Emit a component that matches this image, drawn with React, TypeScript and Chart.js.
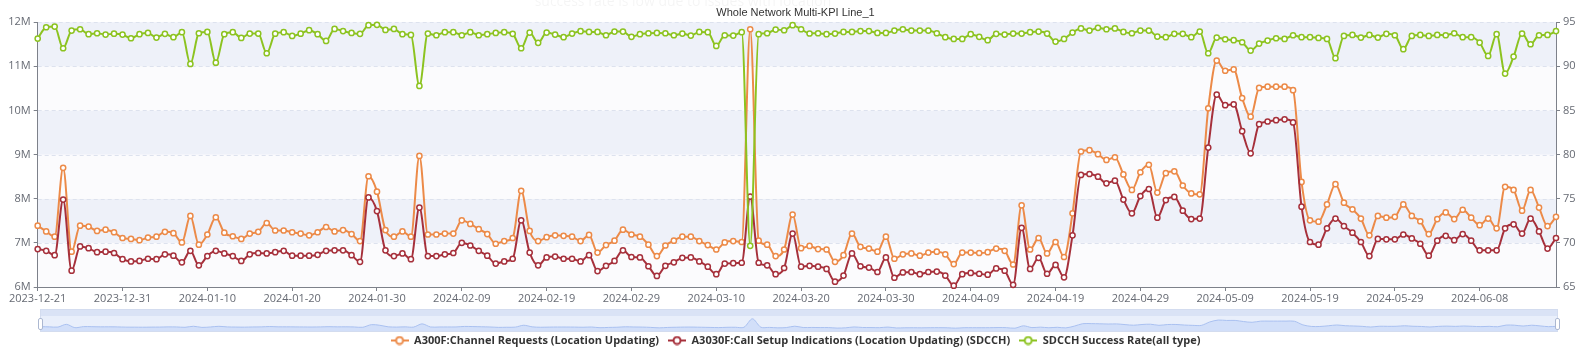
import React, { useEffect, useRef } from 'react';
import { Chart, registerables } from 'chart.js';

Chart.register(...registerables);

const TITLE = 'Whole Network Multi-KPI Line_1';
const FADED_NOTE = 'success rate is low due to issues with location';

const SERIES_NAMES = [
  'A300F:Channel Requests (Location Updating)',
  'A3030F:Call Setup Indications (Location Updating) (SDCCH)',
  'SDCCH Success Rate(all type)',
];

// Daily categories 2023-12-21 .. 2024-06-17
function buildDates(n: number): string[] {
  const out: string[] = [];
  for (let i = 0; i < n; i++) {
    out.push(new Date(Date.UTC(2023, 11, 21 + i)).toISOString().slice(0, 10));
  }
  return out;
}
const DATES = buildDates(180);

const TICK_LABELS = [
  '2023-12-21', '2023-12-31', '2024-01-10', '2024-01-20', '2024-01-30', '2024-02-09',
  '2024-02-19', '2024-02-29', '2024-03-10', '2024-03-20', '2024-03-30', '2024-04-09',
  '2024-04-19', '2024-04-29', '2024-05-09', '2024-05-19', '2024-05-29', '2024-06-08',
];

// Left axis, millions
const CHANNEL_REQUESTS = [
  7.39, 7.26, 7.14, 8.70, 6.80, 7.39, 7.37, 7.27, 7.30, 7.24,
  7.11, 7.09, 7.06, 7.12, 7.14, 7.25, 7.22, 7.01, 7.61, 6.96,
  7.19, 7.58, 7.23, 7.15, 7.09, 7.21, 7.25, 7.45, 7.28, 7.28,
  7.24, 7.21, 7.17, 7.24, 7.36, 7.26, 7.29, 7.20, 7.04, 8.51,
  8.16, 7.29, 7.14, 7.26, 7.14, 8.97, 7.19, 7.19, 7.21, 7.21,
  7.51, 7.43, 7.31, 7.20, 6.98, 7.04, 7.11, 8.18, 7.27, 7.04,
  7.13, 7.17, 7.16, 7.14, 7.04, 7.18, 6.78, 6.95, 7.05, 7.30,
  7.19, 7.14, 6.96, 6.70, 6.94, 7.05, 7.14, 7.14, 7.04, 6.95,
  6.85, 7.01, 7.04, 7.02, 11.84, 7.05, 6.96, 6.70, 6.85, 7.64,
  6.88, 6.93, 6.86, 6.85, 6.57, 6.72, 7.21, 6.91, 6.87, 6.80,
  7.14, 6.64, 6.74, 6.76, 6.71, 6.78, 6.80, 6.74, 6.52, 6.78,
  6.78, 6.77, 6.79, 6.87, 6.82, 6.51, 7.85, 6.85, 7.11, 6.76,
  7.02, 6.68, 7.67, 9.07, 9.10, 9.01, 8.88, 8.94, 8.55, 8.20,
  8.60, 8.77, 8.14, 8.58, 8.62, 8.30, 8.12, 8.10, 10.05, 11.13,
  10.90, 10.93, 10.28, 9.86, 10.51, 10.54, 10.54, 10.54, 10.46, 8.38,
  7.51, 7.48, 7.87, 8.33, 7.91, 7.76, 7.55, 7.17, 7.61, 7.57,
  7.59, 7.87, 7.61, 7.49, 7.20, 7.54, 7.69, 7.54, 7.75, 7.57,
  7.40, 7.55, 7.33, 8.27, 8.20, 7.73, 8.20, 7.80, 7.38, 7.59,
];

const CALL_SETUP = [
  6.86, 6.82, 6.72, 7.98, 6.37, 6.92, 6.88, 6.79, 6.80, 6.77,
  6.63, 6.58, 6.59, 6.64, 6.63, 6.74, 6.71, 6.56, 6.82, 6.49,
  6.70, 6.82, 6.76, 6.70, 6.59, 6.74, 6.77, 6.76, 6.79, 6.82,
  6.71, 6.71, 6.71, 6.73, 6.82, 6.83, 6.83, 6.72, 6.57, 8.03,
  7.72, 6.83, 6.70, 6.76, 6.63, 7.80, 6.70, 6.70, 6.74, 6.77,
  7.00, 6.94, 6.82, 6.71, 6.53, 6.58, 6.64, 7.51, 6.78, 6.49,
  6.67, 6.69, 6.64, 6.64, 6.58, 6.72, 6.36, 6.48, 6.59, 6.83,
  6.68, 6.67, 6.47, 6.25, 6.48, 6.56, 6.66, 6.67, 6.58, 6.46,
  6.29, 6.53, 6.54, 6.55, 8.05, 6.55, 6.49, 6.29, 6.43, 7.21,
  6.46, 6.48, 6.46, 6.41, 6.12, 6.26, 6.76, 6.47, 6.44, 6.34,
  6.67, 6.21, 6.33, 6.34, 6.29, 6.34, 6.35, 6.26, 6.03, 6.29,
  6.32, 6.30, 6.28, 6.42, 6.37, 6.05, 7.34, 6.41, 6.66, 6.30,
  6.50, 6.22, 7.17, 8.54, 8.56, 8.50, 8.35, 8.41, 7.98, 7.67,
  8.06, 8.22, 7.57, 7.97, 8.04, 7.73, 7.54, 7.55, 9.16, 10.36,
  10.12, 10.14, 9.53, 9.03, 9.69, 9.75, 9.78, 9.80, 9.73, 7.82,
  7.02, 6.96, 7.33, 7.55, 7.38, 7.23, 7.02, 6.70, 7.09, 7.08,
  7.08, 7.19, 7.10, 6.98, 6.71, 7.05, 7.16, 7.06, 7.20, 7.05,
  6.83, 6.83, 6.83, 7.33, 7.42, 7.21, 7.55, 7.26, 6.87, 7.11,
];

// Right axis, percent
const SUCCESS_RATE = [
  93.15, 94.43, 94.5, 92.05, 94.05, 94.2, 93.64, 93.75, 93.6, 93.7,
  93.6, 93.18, 93.64, 93.79, 93.26, 93.68, 93.3, 93.87, 90.27, 93.75,
  93.9, 90.42, 93.64, 93.87, 93.22, 93.71, 93.71, 91.48, 93.7, 93.87,
  93.45, 93.7, 94.1, 93.64, 92.88, 94.24, 94.0, 93.79, 93.68, 94.66,
  94.7, 94.13, 94.24, 93.64, 93.56, 87.78, 93.71, 93.52, 93.87, 93.87,
  93.52, 93.87, 93.52, 93.64, 93.79, 93.87, 93.68, 92.05, 93.83, 92.66,
  93.83, 93.6, 93.3, 93.71, 93.98, 93.9, 93.9, 93.52, 93.94, 93.94,
  93.34, 93.64, 93.75, 93.79, 93.75, 93.52, 93.71, 93.49, 93.9, 93.87,
  92.31, 93.52, 93.49, 93.87, 69.66, 93.64, 93.75, 94.17, 94.09, 94.66,
  94.2, 93.72, 93.75, 93.64, 93.71, 93.9, 93.9, 94.0, 94.0, 93.79,
  93.79, 94.05, 94.2, 94.05, 94.05, 94.05, 93.75, 93.3, 93.11, 93.11,
  93.64, 93.34, 92.96, 93.68, 93.6, 93.71, 93.71, 93.87, 93.94, 93.71,
  92.81, 93.11, 93.83, 94.3, 94.05, 94.36, 94.2, 94.3, 93.9, 93.75,
  94.05, 94.05, 93.37, 93.3, 93.68, 93.68, 93.3, 93.94, 91.48, 93.26,
  93.07, 92.96, 92.73, 91.79, 92.58, 92.92, 93.18, 93.11, 93.52, 93.3,
  93.3, 93.22, 93.11, 90.92, 93.45, 93.56, 93.26, 93.56, 93.26, 93.68,
  93.52, 91.94, 93.45, 93.56, 93.45, 93.56, 93.52, 93.75, 93.3, 93.3,
  92.69, 91.18, 93.64, 89.18, 91.1, 93.71, 92.5, 93.52, 93.56, 94.0,
];

const ORANGE = '#ec8a48';
const RED = '#a6303b';
const GREEN = '#8cc320';
const AXIS = '#7d818a';
const LABEL = '#666a73';

function legendMarker(color: string): HTMLCanvasElement {
  const c = document.createElement('canvas');
  c.width = 18;
  c.height = 10;
  const ctx = c.getContext('2d')!;
  ctx.strokeStyle = color;
  ctx.lineWidth = 2;
  ctx.beginPath();
  ctx.moveTo(0, 5);
  ctx.lineTo(18, 5);
  ctx.stroke();
  ctx.beginPath();
  ctx.arc(9, 5, 3.5, 0, Math.PI * 2);
  ctx.fillStyle = '#fff';
  ctx.fill();
  ctx.stroke();
  return c;
}

const bandsPlugin = {
  id: 'bands',
  beforeDraw(chart: any) {
    const { ctx, chartArea } = chart;
    const y = chart.scales.y;
    const ticks = y.ticks;
    ctx.save();
    for (let k = 0; k < ticks.length - 1; k++) {
      const p0 = y.getPixelForValue(ticks[k].value);
      const p1 = y.getPixelForValue(ticks[k + 1].value);
      ctx.fillStyle = k % 2 === 1 ? '#eef1f9' : '#fbfbfd';
      ctx.fillRect(chartArea.left, p1, chartArea.right - chartArea.left, p0 - p1);
    }
    ctx.strokeStyle = '#dde2ee';
    ctx.lineWidth = 1;
    ctx.setLineDash([4, 3]);
    for (let k = 1; k < ticks.length; k++) {
      const p = Math.round(y.getPixelForValue(ticks[k].value)) + 0.5;
      ctx.beginPath();
      ctx.moveTo(chartArea.left, p);
      ctx.lineTo(chartArea.right, p);
      ctx.stroke();
    }
    ctx.restore();
  },
};

const notePlugin = {
  id: 'fadedNote',
  afterDraw(chart: any) {
    const ctx = chart.ctx;
    ctx.save();
    ctx.font = '14px "Open Sans"';
    ctx.fillStyle = 'rgba(0,0,0,0.045)';
    ctx.textAlign = 'center';
    ctx.textBaseline = 'alphabetic';
    ctx.fillText(FADED_NOTE, 683, 6);
    ctx.restore();
  },
};

export default function App() {
  const mainRef = useRef<HTMLCanvasElement>(null);
  const miniRef = useRef<HTMLCanvasElement>(null);

  useEffect(() => {
    const markers = [legendMarker(ORANGE), legendMarker(RED), legendMarker(GREEN)];
    const tickFont = { family: '"Open Sans", sans-serif', size: 11 };

    const lineDs = (label: string, data: number[], color: string, axis: string, order: number) => ({
      label,
      data,
      yAxisID: axis,
      borderColor: color,
      backgroundColor: color,
      borderWidth: 2,
      pointRadius: 2.6,
      pointBorderWidth: 1.5,
      pointBackgroundColor: '#fff',
      pointBorderColor: color,
      cubicInterpolationMode: 'monotone' as const,
      fill: false,
      clip: 8,
      order,
    });

    const main = new Chart(mainRef.current!, {
      type: 'line',
      data: {
        labels: DATES,
        datasets: [
          lineDs(SERIES_NAMES[0], CHANNEL_REQUESTS, ORANGE, 'y', 2),
          lineDs(SERIES_NAMES[1], CALL_SETUP, RED, 'y', 1),
          lineDs(SERIES_NAMES[2], SUCCESS_RATE, GREEN, 'y1', 0),
        ],
      },
      options: {
        responsive: false,
        animation: false,
        devicePixelRatio: 1,
        events: [],
        layout: { padding: { left: 0, right: 0, top: 0, bottom: -2 } },
        plugins: {
          title: {
            display: true,
            text: TITLE,
            color: '#333',
            font: { family: '"Liberation Sans", Arial, sans-serif', size: 11, weight: 'normal' },
            padding: { top: 6, bottom: 3 },
          },
          legend: {
            position: 'bottom',
            labels: {
              usePointStyle: true,
              pointStyleWidth: 18,
              boxHeight: 12,
              padding: 9,
              color: '#333',
              font: { family: '"Open Sans", sans-serif', size: 11, weight: 'bold' },
              generateLabels: (chart: any) =>
                chart.data.datasets.map((ds: any, i: number) => ({
                  text: ds.label,
                  pointStyle: markers[i],
                  fillStyle: ds.borderColor,
                  strokeStyle: ds.borderColor,
                  lineWidth: 0,
                  hidden: false,
                  datasetIndex: i,
                  fontColor: '#333',
                })),
            },
          },
          tooltip: { enabled: false },
        },
        scales: {
          x: {
            type: 'category',
            offset: false,
            grid: { display: true, drawOnChartArea: false, drawTicks: true, tickLength: 4, color: AXIS },
            border: { display: true, color: AXIS, width: 1 },
            ticks: {
              autoSkip: false,
              maxRotation: 0,
              minRotation: 0,
              padding: 1,
              color: LABEL,
              font: tickFont,
            },
            afterTickToLabelConversion: (s: any) => {
              s.ticks = s.ticks.filter((t: any) => TICK_LABELS.includes(t.label));
            },
            afterFit: (s: any) => {
              s.height = 39;
            },
          },
          y: {
            position: 'left',
            min: 6,
            max: 12,
            ticks: {
              stepSize: 1,
              padding: 3,
              color: LABEL,
              font: tickFont,
              callback: (v: any) => `${v}M`,
            },
            grid: { drawOnChartArea: false, drawTicks: true, tickLength: 4, color: AXIS },
            border: { display: true, color: AXIS, width: 1 },
            afterFit: (s: any) => {
              s.width = 37.7;
            },
          },
          y1: {
            position: 'right',
            min: 65,
            max: 95,
            ticks: { stepSize: 5, padding: 3, color: LABEL, font: tickFont },
            grid: { drawOnChartArea: false, drawTicks: true, tickLength: 4, color: AXIS },
            border: { display: true, color: AXIS, width: 1 },
            afterFit: (s: any) => {
              s.width = 35;
            },
          },
        },
      },
      plugins: [bandsPlugin, notePlugin],
    } as any);

    const lo = Math.min(...CHANNEL_REQUESTS);
    const hi = Math.max(...CHANNEL_REQUESTS);
    const pad = (hi - lo) * 0.3;
    const mini = new Chart(miniRef.current!, {
      type: 'line',
      data: {
        labels: DATES,
        datasets: [
          {
            data: CHANNEL_REQUESTS,
            borderColor: '#a9c0f0',
            borderWidth: 1,
            backgroundColor: 'rgba(150,182,245,0.28)',
            fill: 'start',
            pointRadius: 0,
            tension: 0.3,
          },
        ],
      },
      options: {
        responsive: false,
        animation: false,
        devicePixelRatio: 1,
        events: [],
        layout: { padding: 0 },
        plugins: { legend: { display: false }, title: { display: false }, tooltip: { enabled: false } },
        scales: {
          x: { display: false, offset: false },
          y: { display: false, min: lo - pad, max: hi + pad },
        },
      },
    } as any);

    return () => {
      main.destroy();
      mini.destroy();
    };
  }, []);

  return (
    <div style={{ position: 'fixed', left: 0, top: 0, width: 1591, height: 354, background: '#fff', overflow: 'hidden' }}>
      <canvas ref={mainRef} width={1591} height={354} style={{ position: 'absolute', left: 0, top: 0, width: 1591, height: 354 }} />
      <div
        style={{
          position: 'absolute', left: 40, top: 309, width: 1518, height: 23,
          boxSizing: 'border-box', border: '1px solid #d3dcef', background: '#e9effb',
        }}
      />
      <div style={{ position: 'absolute', left: 41, top: 310, width: 1516, height: 6, background: '#dae3f6' }} />
      <canvas ref={miniRef} width={1516} height={15} style={{ position: 'absolute', left: 41, top: 316, width: 1516, height: 15 }} />
      <div
        style={{
          position: 'absolute', left: 38, top: 318, width: 5, height: 12, boxSizing: 'border-box',
          background: '#fff', border: '1px solid #acb8d1', borderRadius: 2,
        }}
      />
      <div
        style={{
          position: 'absolute', left: 1555, top: 318, width: 5, height: 12, boxSizing: 'border-box',
          background: '#fff', border: '1px solid #acb8d1', borderRadius: 2,
        }}
      />
    </div>
  );
}
